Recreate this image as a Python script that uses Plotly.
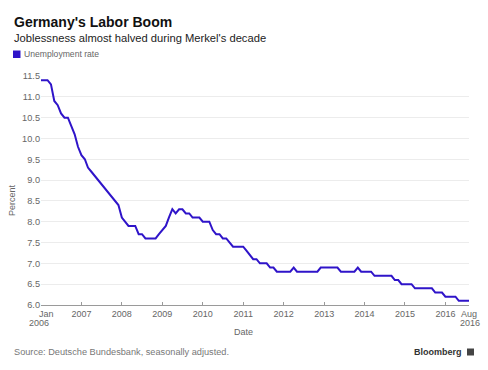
import pandas as pd
import plotly.graph_objects as go

# Monthly unemployment rate, Jan 2006 .. Aug 2016 (percent)
start_month = "2006-01"
end_month = "2016-08"
unemployment = [
    11.4, 11.4, 11.4, 11.3, 10.9, 10.8, 10.6, 10.5, 10.5, 10.3, 10.1, 9.8,   # 2006
    9.6, 9.5, 9.3, 9.2, 9.1, 9.0, 8.9, 8.8, 8.7, 8.6, 8.5, 8.4,             # 2007
    8.1, 8.0, 7.9, 7.9, 7.9, 7.7, 7.7, 7.6, 7.6, 7.6, 7.6, 7.7,             # 2008
    7.8, 7.9, 8.1, 8.3, 8.2, 8.3, 8.3, 8.2, 8.2, 8.1, 8.1, 8.1,             # 2009
    8.0, 8.0, 8.0, 7.8, 7.7, 7.7, 7.6, 7.6, 7.5, 7.4, 7.4, 7.4,             # 2010
    7.4, 7.3, 7.2, 7.1, 7.1, 7.0, 7.0, 7.0, 6.9, 6.9, 6.8, 6.8,             # 2011
    6.8, 6.8, 6.8, 6.9, 6.8, 6.8, 6.8, 6.8, 6.8, 6.8, 6.8, 6.9,             # 2012
    6.9, 6.9, 6.9, 6.9, 6.9, 6.8, 6.8, 6.8, 6.8, 6.8, 6.9, 6.8,             # 2013
    6.8, 6.8, 6.8, 6.7, 6.7, 6.7, 6.7, 6.7, 6.7, 6.6, 6.6, 6.5,             # 2014
    6.5, 6.5, 6.5, 6.4, 6.4, 6.4, 6.4, 6.4, 6.4, 6.3, 6.3, 6.3,             # 2015
    6.2, 6.2, 6.2, 6.2, 6.1, 6.1, 6.1, 6.1,                                 # 2016
]
dates = pd.date_range(start_month, end_month, freq="MS")

tick_dates = ["2006-01-01", "2007-01-01", "2008-01-01", "2009-01-01", "2010-01-01",
              "2011-01-01", "2012-01-01", "2013-01-01", "2014-01-01", "2015-01-01",
              "2016-01-01", "2016-08-01"]
# the two end labels are written as annotations below
tick_labels = ["", "2007", "2008", "2009", "2010", "2011", "2012",
               "2013", "2014", "2015", "2016", ""]
y_ticks = [6.0, 6.5, 7.0, 7.5, 8.0, 8.5, 9.0, 9.5, 10.0, 10.5, 11.0, 11.5]
y_labels = [f"{v:.1f}" for v in y_ticks]

LINE = "#2f14c9"
GRAY = "#666666"
FONT = "Liberation Sans, Arial, sans-serif"

W, H = 488, 370
L, R, T, B = 41, 19, 76, 65
pw, ph = W - L - R, H - T - B

def px(x):
    return (x - L) / pw

def py(y):
    return (H - B - y) / ph

fig = go.Figure()
fig.add_trace(go.Scatter(x=dates, y=unemployment, mode="lines",
                         line=dict(color=LINE, width=2), showlegend=False,
                         hoverinfo="x+y", cliponaxis=False))

fig.update_layout(
    width=W, height=H,
    margin=dict(l=L, r=R, t=T, b=B, autoexpand=False),
    paper_bgcolor="white", plot_bgcolor="white",
    font=dict(family=FONT, size=9, color=GRAY),
    xaxis=dict(
        range=[dates[0], dates[-1]],
        tickvals=tick_dates, ticktext=tick_labels,
        showgrid=False, showline=True, linecolor="#9a9a9a", linewidth=1,
        ticks="inside", ticklen=3, tickcolor="#9a9a9a",
        tickfont=dict(size=9, color=GRAY), automargin=False,
        fixedrange=True,
    ),
    yaxis=dict(
        range=[6.0, 11.5],
        tickvals=y_ticks, ticktext=y_labels,
        showgrid=True, gridcolor="#ececec", gridwidth=1,
        zeroline=False, showline=False, ticks="",
        tickfont=dict(size=9.2, color=GRAY), automargin=False,
        fixedrange=True,
    ),
)

annotations = [
    dict(text="<b>Germany's Labor Boom</b>", x=px(12), y=py(12), xanchor="left", yanchor="top",
         font=dict(size=14, color="#111111", family=FONT)),
    dict(text="Joblessness almost halved during Merkel's decade", x=px(12), y=py(30),
         xanchor="left", yanchor="top", font=dict(size=11.2, color="#222222", family=FONT)),
    dict(text="Unemployment rate", x=px(22), y=py(54), xanchor="left", yanchor="middle",
         font=dict(size=8.6, color=GRAY, family=FONT)),
    dict(text="Percent", x=px(12), y=py(200), xanchor="center", yanchor="middle",
         textangle=-90, font=dict(size=9, color=GRAY, family=FONT)),
    dict(text="Date", x=px(243), y=py(332), xanchor="center", yanchor="middle",
         font=dict(size=9, color=GRAY, family=FONT)),
    dict(text="Jan", x=px(46), y=py(314), xanchor="center", yanchor="middle",
         font=dict(size=9, color=GRAY, family=FONT)),
    dict(text="2006", x=px(39), y=py(322.5), xanchor="center", yanchor="middle",
         font=dict(size=9, color=GRAY, family=FONT)),
    dict(text="Aug", x=px(469), y=py(314), xanchor="center", yanchor="middle",
         font=dict(size=9, color=GRAY, family=FONT)),
    dict(text="2016", x=px(470), y=py(322.5), xanchor="center", yanchor="middle",
         font=dict(size=9, color=GRAY, family=FONT)),
    dict(text="Source: Deutsche Bundesbank, seasonally adjusted.", x=px(12), y=py(352),
         xanchor="left", yanchor="middle", font=dict(size=9.2, color="#777777", family=FONT)),
    dict(text="<b>Bloomberg</b>", x=px(464), y=py(352), xanchor="right", yanchor="middle",
         font=dict(size=9, color="#333333", family=FONT)),
]
for a in annotations:
    a.update(xref="paper", yref="paper", showarrow=False)
fig.update_layout(annotations=annotations)

fig.add_shape(type="rect", xref="paper", yref="paper",
              x0=px(13), x1=px(20.5), y0=py(50.5), y1=py(58),
              fillcolor=LINE, line=dict(width=0))
fig.add_shape(type="rect", xref="paper", yref="paper",
              x0=px(467), x1=px(474), y0=py(348.5), y1=py(355.5),
              fillcolor="#444444", line=dict(width=0))

fig.write_html("out.html", config={"displayModeBar": False},
               post_script="document.body.style.margin='0';document.body.style.overflow='hidden';")
